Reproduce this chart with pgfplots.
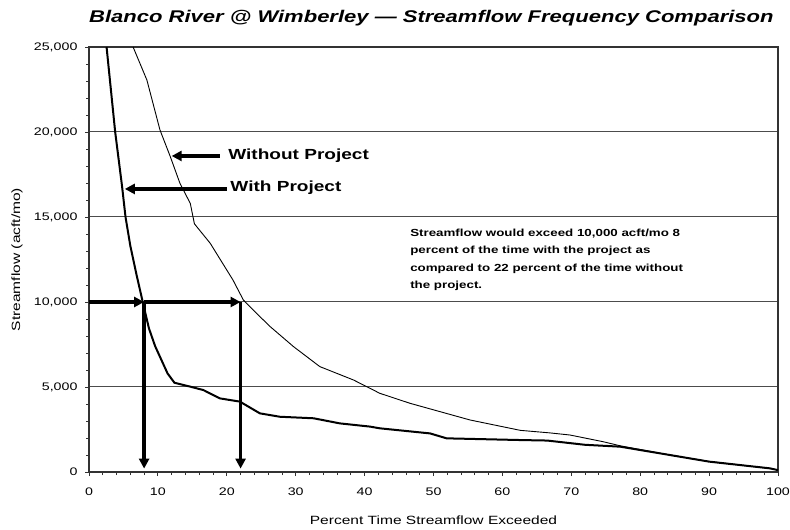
\documentclass[border=0pt]{standalone}
\usepackage{fontspec}
\setmainfont{Liberation Sans}[FakeStretch=1.3]
\usepackage{pgfplots}
\pgfplotsset{compat=1.18}
\usetikzlibrary{arrows.meta}

\begin{document}
\begin{tikzpicture}
\path[use as bounding box] (-89bp,-58bp) rectangle (701bp,472bp);
\begin{axis}[
  at={(0,0)}, anchor=south west,
  scale only axis, width=689bp, height=425bp,
  xmin=0, xmax=100, ymin=0, ymax=25000,
  xtick={0,10,...,100}, ytick={0,5000,...,25000},
  minor x tick num=4, minor y tick num=4,
  xtick pos=lower, ytick pos=left,
  tick align=outside, major tick length=4bp, minor tick length=3bp,
  ymajorgrids, major grid style={black!70, line width=1bp},
  axis line style={black!80, line width=1.8bp},
  every tick/.style={black!80, line width=0.8bp},
  /pgf/number format/assume math mode=true,
  scaled y ticks=false,
  /pgf/number format/1000 sep={,},
  yticklabel style={font=\fontsize{11}{12}\selectfont, xshift=-4bp},
  xticklabel style={font=\fontsize{11}{12}\selectfont, yshift=-8bp},
  ylabel={Streamflow (acft/mo)},
  ylabel style={at={(axis description cs:-0.1045,0.5)}, anchor=center, font=\fontsize{12}{13}\selectfont},
  xlabel={Percent Time Streamflow Exceeded},
  xlabel style={at={(axis description cs:0.5,-0.113)}, anchor=center, font=\fontsize{12}{13}\selectfont},
  clip=false,
]
% With Project (thick)
\addplot[black, line width=2bp] coordinates {
(2.55,25000) (3.8,20000) (4.8,16800) (5.3,15000) (6.0,13300) (6.9,11600)
(7.8,10000) (8.7,8450) (9.6,7400) (10.5,6600) (11.4,5800) (12.4,5250) (14.7,5020) (16.6,4820)
(19.0,4330) (21.9,4140) (24.8,3450) (27.7,3250) (32.6,3160) (36.4,2860)
(40.8,2670) (42.2,2570) (49.5,2270) (51.9,1980) (62.6,1880) (66.5,1850)
(72,1600) (77.1,1490) (84.3,1000) (90,610) (98.8,216) (100,110)
};
% Without Project (thin)
\addplot[black, line width=0.9bp] coordinates {
(6.4,25000) (8.4,23060) (10.3,20120) (11.8,18550) (13.2,16980) (14.7,15800)
(15.3,14600) (17.6,13450) (20.9,11290) (22.4,10120) (24.3,9340) (26.3,8550)
(29.7,7370) (33.5,6200) (38.4,5410) (40.8,4920) (42.2,4630) (46.6,4040)
(55.3,3060) (62.6,2450) (66.9,2300) (69.8,2176) (74.6,1784) (77.1,1540)
(84.3,1000) (90,620) (98.8,216) (100,120)
};
% indicator arrows
\pgfplotsset{arr/.style={black, line width=3.5bp, -{Triangle[length=10bp,width=10bp]}}}
\addplot[arr] coordinates {(0,10000) (8,10000)};
\addplot[arr] coordinates {(8,10000) (22,10000)};
\addplot[arr] coordinates {(8,10000) (8,200)};
\addplot[arr] coordinates {(22,10000) (22,200)};
\addplot[arr] coordinates {(19.0,18590) (12.0,18590)};
\addplot[arr] coordinates {(20.0,16650) (5.2,16650)};
\node[anchor=west, inner sep=0, font=\fontsize{14.7}{16}\selectfont\bfseries] at (axis cs:20.2,18590) {Without Project};
\node[anchor=west, inner sep=0, font=\fontsize{14.7}{16}\selectfont\bfseries] at (axis cs:20.5,16700) {With Project};
\node[anchor=north west, align=left, inner sep=0, font=\fontsize{10.3}{17.5}\selectfont\bfseries] at (axis cs:46.6,14300)
 {Streamflow would exceed 10,000 acft/mo 8\\percent of the time with the project as\\compared to 22 percent of the time without\\the project.};
\node[font=\fontsize{17}{20}\selectfont\bfseries\itshape] at (rel axis cs:0.497,1) [yshift=29bp]
 {Blanco River @ Wimberley — Streamflow Frequency Comparison};
\end{axis}
\end{tikzpicture}
\end{document}
